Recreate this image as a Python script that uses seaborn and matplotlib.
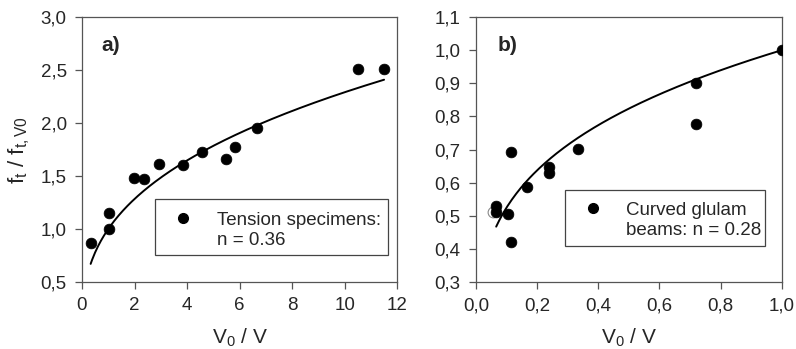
import numpy as np
import pandas as pd
import matplotlib
matplotlib.use("Agg")
import matplotlib.pyplot as plt
from matplotlib.patches import Rectangle
from matplotlib.lines import Line2D
import seaborn as sns

sns.set_theme(style="ticks")
plt.rcParams["font.family"] = ["Liberation Sans", "DejaVu Sans"]
plt.rcParams["mathtext.fontset"] = "custom"
plt.rcParams["mathtext.rm"] = "Liberation Sans"
plt.rcParams["mathtext.it"] = "Liberation Sans"

# Panel a: tension specimens
tension_x = [0.36, 1.04, 1.04, 1.97, 2.35, 2.92, 3.86, 4.55, 5.50, 5.84, 6.67, 10.51, 11.48]
tension_y = [0.87, 1.155, 1.00, 1.48, 1.47, 1.61, 1.60, 1.73, 1.66, 1.77, 1.95, 2.51, 2.51]
tension_n = 0.36
tension_fit_range = [0.33, 11.5]
tension_label = ["Tension specimens:", "n = 0.36"]

# Panel b: curved glulam beams
glulam_x = [1.00, 0.72, 0.72, 0.115, 0.333, 0.239, 0.239, 0.166, 0.0665, 0.0665, 0.106, 0.115]
glulam_y = [1.00, 0.902, 0.777, 0.694, 0.702, 0.647, 0.628, 0.587, 0.531, 0.511, 0.504, 0.422]
glulam_open_x = [0.0545]
glulam_open_y = [0.511]
glulam_n = 0.28
glulam_fit_range = [0.066, 1.0]
glulam_label = ["Curved glulam", "beams: n = 0.28"]

a_xticks = [0, 2, 4, 6, 8, 10, 12]
a_yticks = [0.5, 1.0, 1.5, 2.0, 2.5, 3.0]
b_xticks = [0.0, 0.2, 0.4, 0.6, 0.8, 1.0]
b_yticks = [0.3, 0.4, 0.5, 0.6, 0.7, 0.8, 0.9, 1.0, 1.1]

TXT = "#262626"
FS = 13.5
LFS = 15

fig = plt.figure(figsize=(7.96, 3.49), dpi=100)
ax1 = fig.add_axes([0.103, 0.192, 0.396, 0.759])
ax2 = fig.add_axes([0.598, 0.192, 0.384, 0.759])


def comma(v, decimals):
    return f"{v:.{decimals}f}".replace(".", ",")


def style_axes(ax, xticks, yticks, xdec, ydec):
    ax.set_xlim(xticks[0], xticks[-1])
    ax.set_ylim(yticks[0], yticks[-1])
    ax.set_xticks(xticks)
    ax.set_yticks(yticks)
    ax.set_xticklabels([comma(v, xdec) for v in xticks])
    ax.set_yticklabels([comma(v, ydec) for v in yticks])
    for s in ax.spines.values():
        s.set_visible(True)
        s.set_color("#555555")
        s.set_linewidth(0.9)
    ax.tick_params(axis="both", direction="out", length=5, width=0.9,
                   colors="#555555", labelcolor=TXT, labelsize=FS, pad=6)
    ax.tick_params(top=False, right=False)


def power_curve(ax, rng, n):
    xs = np.linspace(rng[0], rng[1], 200)
    df = pd.DataFrame({"x": xs, "y": xs ** n})
    sns.lineplot(data=df, x="x", y="y", ax=ax, color="black", linewidth=1.4)


def legend_box(ax, box, marker_xy, text_x, baselines, lines):
    ax.add_patch(Rectangle((box[0], box[1]), box[2] - box[0], box[3] - box[1],
                           transform=ax.transAxes, facecolor="white",
                           edgecolor="#444444", linewidth=0.9, zorder=5))
    ax.add_line(Line2D([marker_xy[0]], [marker_xy[1]], transform=ax.transAxes,
                       marker="o", markersize=7, color="black", linestyle="none",
                       zorder=6))
    for yb, line in zip(baselines, lines):
        ax.text(text_x, yb, line, transform=ax.transAxes, fontsize=FS,
                color=TXT, va="baseline", ha="left", zorder=6)


# Panel a
power_curve(ax1, tension_fit_range, tension_n)
sns.scatterplot(x=tension_x, y=tension_y, ax=ax1, color="black", s=60,
                edgecolor="black", linewidth=0.5, zorder=4)
style_axes(ax1, a_xticks, a_yticks, 0, 1)
ax1.set_xlabel("V$_0$ / V", fontsize=LFS, color=TXT, labelpad=9)
ax1.set_ylabel(r"f$_\mathrm{t}$ / f$_\mathrm{t,V0}$", fontsize=LFS + 1, color=TXT, labelpad=6)
ax1.text(0.063, 0.894, "a)", transform=ax1.transAxes, fontsize=LFS,
         fontweight="bold", color=TXT, va="center", ha="left")
legend_box(ax1, (0.232, 0.102, 0.971, 0.313), (0.321, 0.242), 0.429,
           (0.215, 0.140), tension_label)

# Panel b
power_curve(ax2, glulam_fit_range, glulam_n)
sns.scatterplot(x=glulam_open_x, y=glulam_open_y, ax=ax2, color="white", s=60,
                edgecolor="#888888", linewidth=0.8, zorder=3)
sns.scatterplot(x=glulam_x, y=glulam_y, ax=ax2, color="black", s=60,
                edgecolor="black", linewidth=0.5, zorder=4)
style_axes(ax2, b_xticks, b_yticks, 1, 1)
ax2.set_xlabel("V$_0$ / V", fontsize=LFS, color=TXT, labelpad=9)
ax2.set_ylabel("")
ax2.text(0.069, 0.894, "b)", transform=ax2.transAxes, fontsize=LFS,
         fontweight="bold", color=TXT, va="center", ha="left")
legend_box(ax2, (0.291, 0.136, 0.944, 0.347), (0.382, 0.279), 0.49,
           (0.253, 0.177), glulam_label)

fig.savefig("out.png", dpi=100)
